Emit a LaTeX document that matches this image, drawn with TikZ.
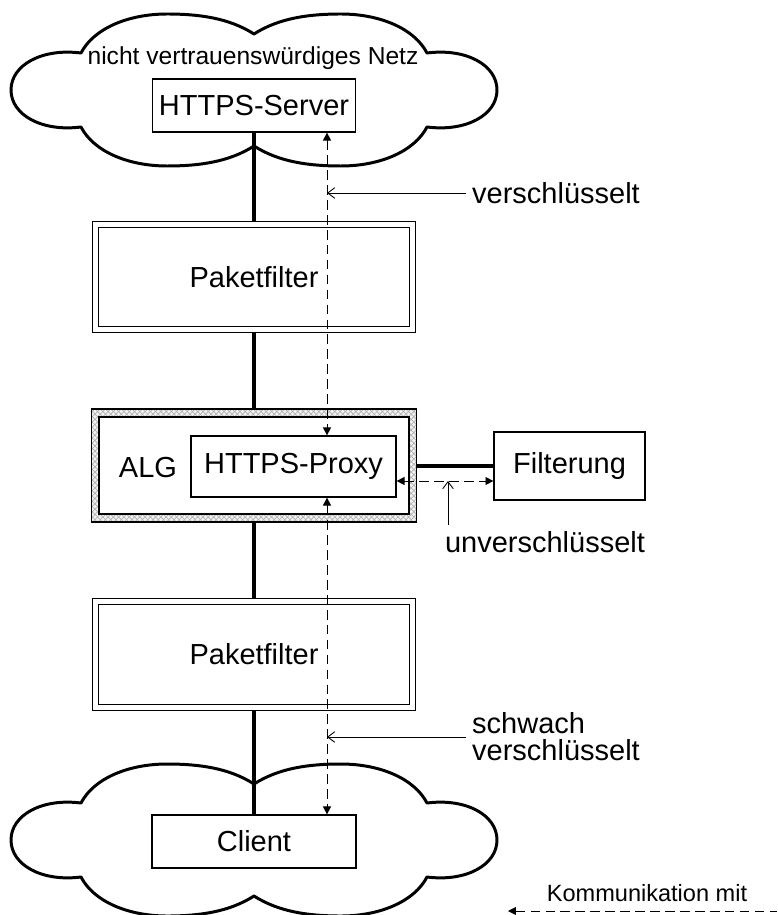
\documentclass[tikz,border=0pt]{standalone}
\usepackage{fontspec}
\setmainfont{Liberation Sans}
\usetikzlibrary{arrows.meta,patterns}

\begin{document}
\begin{tikzpicture}[
    x=0.02cm, y=-0.02cm,
    every node/.style={font=\fontsize{16.5}{20}\selectfont},
    kasten/.style={
        draw,
        line width=0.7pt,
        fill=white,
        inner sep=0pt
    },
    filterkasten/.style={
        kasten,
        double,
        double distance=2.8pt,
        outer sep=2.1pt,
        minimum width=6.35cm,
        minimum height=2.11cm
    },
    leitung/.style={line width=2pt},
    kanal/.style={
        line width=0.5pt,
        dash pattern=on 5.5pt off 3pt,
        {Triangle[length=4.5pt,width=4.5pt]}-{Triangle[length=4.5pt,width=4.5pt]}
    },
    zeiger/.style={line width=0.5pt, -{Straight Barb[length=4pt,width=6pt]}},
    wolke/.pic={
        \draw[line width=1.7pt, line join=round, fill=white]
            (0,-56) .. controls (-25,-72) and (-55,-76) .. (-87,-76)
            .. controls (-125,-76) and (-160,-62) .. (-173,-37)
            .. controls (-212,-42) and (-243,-25) .. (-243,0)
            .. controls (-243,25) and (-212,42) .. (-173,37)
            .. controls (-160,62) and (-125,76) .. (-87,76)
            .. controls (-55,76) and (-25,72) .. (0,56)
            .. controls (25,72) and (55,76) .. (87,76)
            .. controls (125,76) and (160,62) .. (173,37)
            .. controls (212,42) and (243,25) .. (243,0)
            .. controls (243,-25) and (212,-42) .. (173,-37)
            .. controls (160,-62) and (125,-76) .. (87,-76)
            .. controls (55,-76) and (25,-72) .. (0,-56) -- cycle;
    }
]
\useasboundingbox (0,0) rectangle (777,915);

% Netze
\pic at (254,90) {wolke};
\pic at (254,840) {wolke};
\node[font=\fontsize{14}{17}\selectfont] (netz) at (253,58) {nicht vertrauenswürdiges Netz};

% Komponenten
\node[kasten, minimum width=4.06cm, minimum height=1.06cm] (server) at (254,105.5) {HTTPS-Server};
\node[filterkasten] (pf1) at (254,277) {Paketfilter};
\node[draw, line width=0.7pt, preaction={fill=gray!10}, pattern=crosshatch, pattern color=gray!60,
      minimum width=6.5cm, minimum height=2.26cm] (algrand) at (254,465.5) {};
\node[kasten, minimum width=6.2cm, minimum height=1.94cm] (alg) at (254,465.5) {};
\node (alglabel) at (148,468) {ALG};
\node[kasten, minimum width=4.1cm, minimum height=1.22cm] (proxy) at (293.5,466.5) {HTTPS-Proxy};
\node[kasten, minimum width=3.02cm, minimum height=1.36cm] (filter) at (569.5,466) {Filterung};
\node[filterkasten] (pf2) at (254,654.5) {Paketfilter};
\node[kasten, minimum width=4.08cm, minimum height=1.06cm] (client) at (254,841.5) {Client};

% Leitungen
\draw[leitung] (server) -- (pf1);
\draw[leitung] (pf1) -- (algrand);
\draw[leitung] (algrand) -- (pf2);
\draw[leitung] (pf2) -- (client);
\draw[leitung] (algrand.east |- filter.west) -- (filter.west);

% Kommunikation
\coordinate (kanalx) at (327,0);
\coordinate (filterweg) at (448,481);
\draw[kanal] (server.south -| kanalx) -- (proxy.north -| kanalx);
\draw[kanal] (proxy.south -| kanalx) -- (client.north -| kanalx);
\draw[kanal] (proxy.east |- filterweg) -- (filter.west |- filterweg);

% Beschriftungen
\node[anchor=west] (verschl) at (466,193) {verschlüsselt};
\draw[zeiger] (verschl.west) -- (verschl.west -| kanalx);
\node (unverschl) at (545,542) {unverschlüsselt};
\draw[zeiger] (unverschl.north -| filterweg) -- (filterweg);
\node[anchor=west, align=left, font=\fontsize{16.5}{15.5}\selectfont] (schwach) at (466,737) {schwach\\verschlüsselt};
\draw[zeiger] (schwach.west) -- (schwach.west -| kanalx);

% Legende
\node[font=\fontsize{13.4}{16}\selectfont] (legende) at (647,893) {Kommunikation mit};
\coordinate (legl) at (508,911);
\coordinate (legr) at (777,911);
\draw[kanal, {Triangle[length=4.5pt,width=4.5pt]}-] (legl) -- (legr);

\end{tikzpicture}
\end{document}
